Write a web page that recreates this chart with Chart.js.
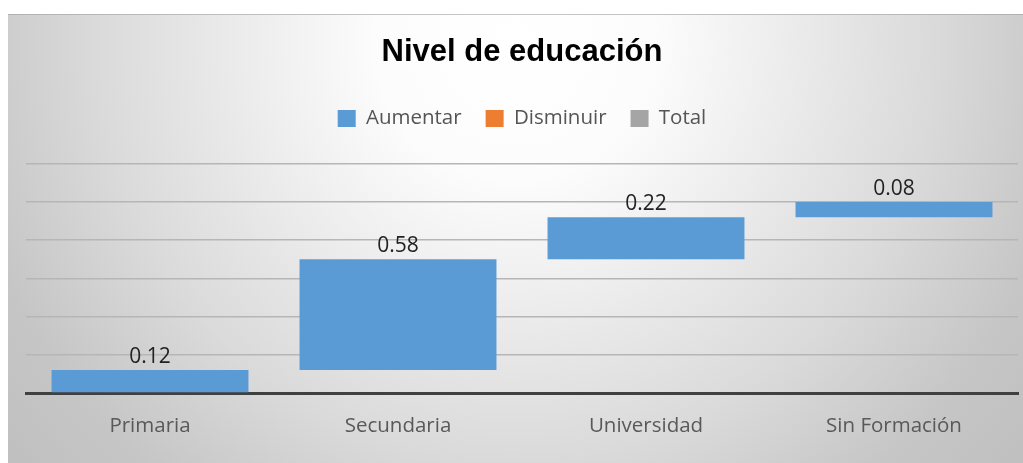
<!DOCTYPE html>
<html>
<head>
<meta charset="utf-8">
<script src="https://cdn.jsdelivr.net/npm/chart.js@4.4.1/dist/chart.umd.min.js"></script>
<style>
  html, body { margin: 0; padding: 0; background: #ffffff; }
  #wrap { width: 1023px; height: 463px; position: relative; }
</style>
</head>
<body>
<div id="wrap"><canvas id="c" width="1023" height="463"></canvas></div>
<script>
// ---- Data ----
const categories = ['Primaria', 'Secundaria', 'Universidad', 'Sin Formación'];
const increments = [0.12, 0.58, 0.22, 0.08];
const decreases = [];          // "Disminuir" series (no bars in reference)
const totals = [];             // "Total" series (no bars in reference)
const seriesNames = ['Aumentar', 'Disminuir', 'Total'];
const yMax = 1.2;
const yStep = 0.2;

// Build floating ranges for the waterfall from the increments
const ranges = [];
let running = 0;
for (const v of increments) { ranges.push([running, running + v]); running += v; }

const bgPlugin = {
  id: 'bg',
  beforeDraw(chart) {
    const ctx = chart.ctx;
    ctx.save();
    ctx.fillStyle = '#ffffff';
    ctx.fillRect(0, 0, chart.width, chart.height);
    const g = ctx.createRadialGradient(515, 40, 0, 515, 40, 700);
    g.addColorStop(0, '#ffffff');
    g.addColorStop(0.2, '#fcfcfc');
    g.addColorStop(0.6, '#dadada');
    g.addColorStop(0.8, '#c6c6c6');
    g.addColorStop(1, '#bdbdbd');
    ctx.fillStyle = g;
    ctx.fillRect(8, 14, chart.width - 8, chart.height - 14);
    ctx.fillStyle = 'rgba(160,160,160,0.6)';
    ctx.fillRect(8, 14, chart.width - 8, 1);
    ctx.restore();
  }
};

const labelPlugin = {
  id: 'vlabels',
  afterDatasetsDraw(chart) {
    const ctx = chart.ctx;
    const meta = chart.getDatasetMeta(0);
    ctx.save();
    ctx.font = '21px "Open Sans"';
    ctx.fillStyle = '#222222';
    ctx.textAlign = 'center';
    ctx.textBaseline = 'alphabetic';
    meta.data.forEach((bar, i) => {
      const top = Math.min(bar.y, bar.base);
      ctx.fillText(increments[i].toFixed(2), bar.x, top - 7);
    });
    ctx.restore();
  }
};

new Chart(document.getElementById('c'), {
  type: 'bar',
  data: {
    labels: categories,
    datasets: [
      { label: seriesNames[0], data: ranges, backgroundColor: '#5b9bd5', borderWidth: 0 },
      { label: seriesNames[1], data: decreases, backgroundColor: '#ed7d31', borderWidth: 0 },
      { label: seriesNames[2], data: totals, backgroundColor: '#a5a5a5', borderWidth: 0 }
    ]
  },
  plugins: [bgPlugin, labelPlugin],
  options: {
    responsive: false,
    animation: false,
    datasets: { bar: { grouped: false, barPercentage: 0.794, categoryPercentage: 1.0 } },
    layout: { padding: { top: 14, left: 26, right: 5, bottom: 0 } },
    plugins: {
      title: {
        display: true,
        text: 'Nivel de educación',
        color: '#000000',
        font: { family: '"Liberation Sans", Arial, sans-serif', size: 31, weight: 'bold', lineHeight: 1.2 },
        padding: { top: 20, bottom: 13 }
      },
      subtitle: {
        display: true,
        text: ' ',
        weight: 500,
        font: { size: 25, lineHeight: 1 },
        padding: 0
      },
      legend: {
        display: true,
        labels: {
          boxWidth: 18,
          boxHeight: 17,
          padding: 24,
          color: '#555555',
          font: { family: '"Open Sans", sans-serif', size: 20.5 }
        }
      },
      tooltip: { enabled: false }
    },
    scales: {
      x: {
        grid: { display: false, drawTicks: false },
        border: { display: true, color: '#404040', width: 3 },
        ticks: { color: '#595959', font: { family: '"Open Sans", sans-serif', size: 20.5 }, padding: 21, maxRotation: 0 },
        afterFit(s) { s.height = 70; }
      },
      y: {
        min: 0,
        max: yMax,
        ticks: { display: false, stepSize: yStep },
        grid: { color: '#b6b6b6', lineWidth: 1.5, drawTicks: false },
        border: { display: false },
        afterFit(s) { s.width = 0; }
      }
    }
  }
});
</script>
</body>
</html>
